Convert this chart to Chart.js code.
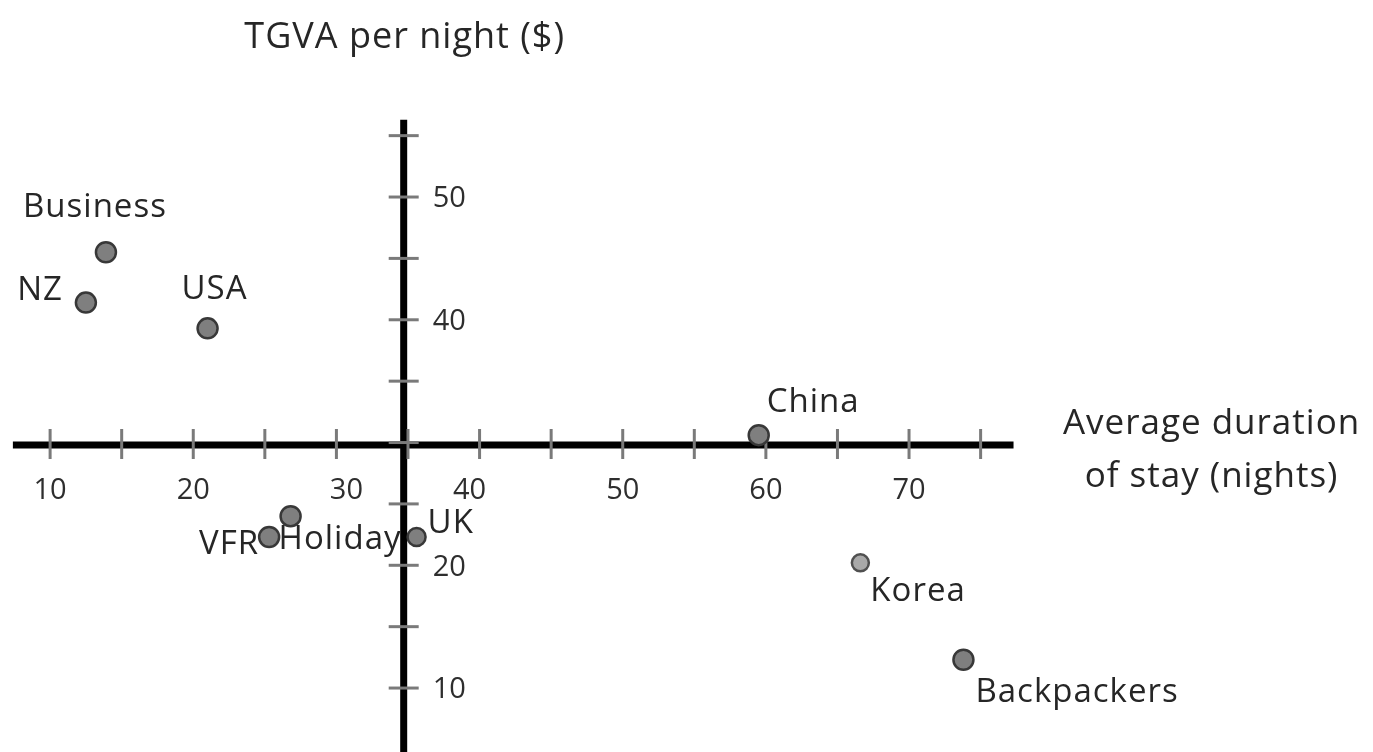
<!DOCTYPE html>
<html>
<head>
<meta charset="utf-8">
<script src="https://cdn.jsdelivr.net/npm/chart.js@4/dist/chart.umd.min.js"></script>
<style>
  html, body { margin: 0; padding: 0; background: #ffffff; }
  #wrap { width: 1373px; height: 752px; position: relative; }
</style>
</head>
<body>
<div id="wrap"><canvas id="c"></canvas></div>
<script>
// ---- data ----
const categories = ['Business', 'NZ', 'USA', 'China', 'Holiday', 'VFR', 'UK', 'Korea', 'Backpackers'];
const durationNights = [13.9, 12.5, 21.0, 59.5, 26.8, 25.3, 35.6, 66.6, 73.8];
const tgvaPerNight = [45.5, 41.4, 39.3, 30.6, 24.0, 22.3, 22.3, 20.2, 12.3];

const xTickValues = [10, 15, 20, 25, 30, 35, 40, 45, 50, 55, 60, 65, 70, 75];
const xLabelValues = [10, 20, 30, 40, 50, 60, 70];
const xTickLabels = ['10', '20', '30', '40', '50', '60', '70'];

const yTickValues = [10, 15, 20, 25, 30, 35, 40, 45, 50, 55];
const yLabelValues = [10, 20, 40, 50];
const yTickLabels = ['10', '20', '40', '50'];

const crossAt = { x: 34.7, y: 29.8 };       // where the two axes cross
const xAxisSpan = [7.4, 77.3];               // extent of horizontal axis line
const yAxisSpan = [4.8, 56.3];               // extent of vertical axis line

const chartTitle = 'TGVA per night ($)';
const xTitleLines = ['Average duration', 'of stay (nights)'];

// ---- styles (not data) ----
const FONT = "'Open Sans', 'Noto Sans', sans-serif";
const TEXT = '#262626';
const labelStyle = {
  Business:    { dx: -11, dy: -45, align: 'center' },
  NZ:          { dx: -23, dy: -12, align: 'right' },
  USA:         { dx: 7,   dy: -39, align: 'center' },
  China:       { dx: 8,   dy: -33, align: 'left' },
  Holiday:     { dx: -12, dy: 23,  align: 'left' },
  VFR:         { dx: -10, dy: 8,   align: 'right' },
  UK:          { dx: 11,  dy: -13, align: 'left' },
  Korea:       { dx: 10,  dy: 29,  align: 'left' },
  Backpackers: { dx: 12,  dy: 33,  align: 'left' }
};
const xLabelNudge = { 30: 10, 40: -10 };

const pointFill = categories.map(c => c === 'Korea' ? '#a9a9a9' : '#7f7f7f');
const pointBorder = categories.map(c => c === 'Korea' ? '#505050' : '#383838');
const pointRadius = categories.map(c => c === 'Korea' ? 8.5 : (c === 'UK' ? 9 : 10));

function setSpacing(ctx, v) { try { ctx.letterSpacing = v; } catch (e) {} }

const axesPlugin = {
  id: 'quadAxes',
  beforeDatasetsDraw(chart) {
    const ctx = chart.ctx;
    const xs = chart.scales.x, ys = chart.scales.y;
    const ax = xs.getPixelForValue(crossAt.x);
    const ay = ys.getPixelForValue(crossAt.y);
    ctx.save();
    // axis lines
    ctx.strokeStyle = '#000000';
    ctx.lineWidth = 7;
    ctx.lineCap = 'butt';
    ctx.beginPath();
    ctx.moveTo(xs.getPixelForValue(xAxisSpan[0]), ay);
    ctx.lineTo(xs.getPixelForValue(xAxisSpan[1]), ay);
    ctx.stroke();
    ctx.beginPath();
    ctx.moveTo(ax, ys.getPixelForValue(yAxisSpan[1]));
    ctx.lineTo(ax, ys.getPixelForValue(yAxisSpan[0]));
    ctx.stroke();
    // tick marks
    ctx.strokeStyle = '#7a7a7a';
    ctx.lineWidth = 3;
    xTickValues.forEach(v => {
      const px = xs.getPixelForValue(v);
      ctx.beginPath();
      ctx.moveTo(px, ay - 16);
      ctx.lineTo(px, ay + 14);
      ctx.stroke();
    });
    yTickValues.forEach(v => {
      const py = ys.getPixelForValue(v);
      ctx.beginPath();
      ctx.moveTo(ax - 15, py);
      ctx.lineTo(ax + 15, py);
      ctx.stroke();
    });
    // tick labels
    ctx.fillStyle = '#2e2e2e';
    ctx.font = '29px ' + FONT;
    ctx.textBaseline = 'middle';
    ctx.textAlign = 'center';
    xLabelValues.forEach((v, i) => {
      const px = xs.getPixelForValue(v) + (xLabelNudge[v] || 0);
      ctx.fillText(xTickLabels[i], px, ay + 46);
    });
    ctx.textAlign = 'left';
    yLabelValues.forEach((v, i) => {
      const py = ys.getPixelForValue(v);
      ctx.fillText(yTickLabels[i], ax + 29, py + 2);
    });
    // titles
    ctx.fillStyle = TEXT;
    setSpacing(ctx, '1px');
    ctx.font = '36px ' + FONT;
    ctx.textAlign = 'center';
    ctx.fillText(chartTitle, ax + 1, 38);
    ctx.font = '35px ' + FONT;
    const tx = xs.getPixelForValue(xAxisSpan[1]) + 198;
    ctx.fillText(xTitleLines[0], tx, ay - 21);
    ctx.fillText(xTitleLines[1], tx, ay + 32);
    ctx.restore();
  },
  afterDatasetsDraw(chart) {
    const ctx = chart.ctx;
    const meta = chart.getDatasetMeta(0);
    ctx.save();
    ctx.fillStyle = TEXT;
    setSpacing(ctx, '1px');
    ctx.font = '33px ' + FONT;
    ctx.textBaseline = 'middle';
    meta.data.forEach((pt, i) => {
      const name = categories[i];
      const s = labelStyle[name];
      ctx.textAlign = s.align;
      ctx.fillText(name, pt.x + s.dx, pt.y + s.dy);
    });
    ctx.restore();
  }
};

new Chart(document.getElementById('c'), {
  type: 'scatter',
  data: {
    datasets: [{
      data: categories.map((c, i) => ({ x: durationNights[i], y: tgvaPerNight[i] })),
      pointBackgroundColor: pointFill,
      pointBorderColor: pointBorder,
      pointBorderWidth: 2.5,
      pointRadius: pointRadius,
      pointHoverRadius: pointRadius
    }]
  },
  options: {
    responsive: true,
    maintainAspectRatio: false,
    animation: false,
    layout: { padding: 0, autoPadding: false },
    events: [],
    plugins: { legend: { display: false }, tooltip: { enabled: false }, title: { display: false } },
    scales: {
      x: { type: 'linear', display: false, min: 6.5, max: 102.41 },
      y: { type: 'linear', display: false, min: 4.79, max: 66.05 }
    }
  },
  plugins: [axesPlugin]
});
</script>
</body>
</html>
